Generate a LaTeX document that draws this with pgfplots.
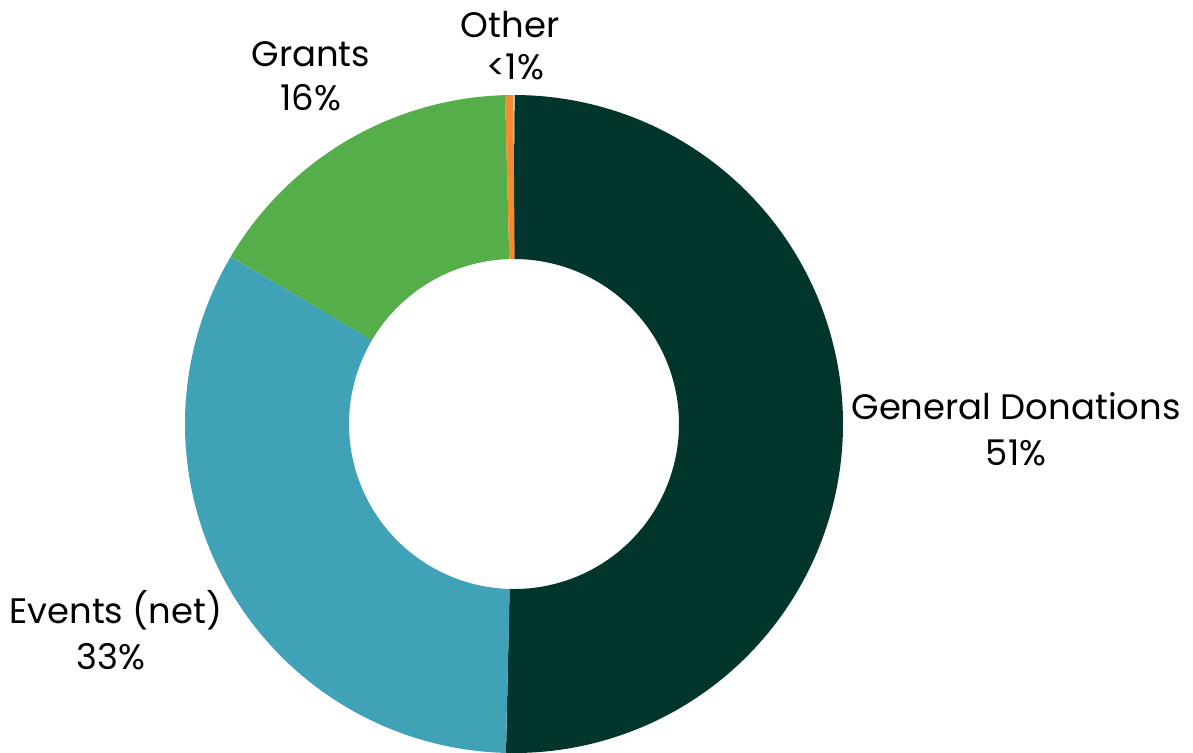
\documentclass[border=0pt]{standalone}
\usepackage{pgfplots}
\usepackage{pgfplotstable}
\pgfplotsset{compat=1.18}
\usepackage{fontspec}
\setmainfont{Poppins}
\definecolor{cDon}{HTML}{02352B}
\definecolor{cEvt}{HTML}{3FA2B7}
\definecolor{cGra}{HTML}{55AE49}
\definecolor{cOth}{HTML}{F38B32}
\pgfplotstableread{
label value
General 50.40
Events 33.10
Grants 16.06
Other 0.44
}\datatable
\pgfplotstablegetelem{0}{value}\of\datatable \let\va\pgfplotsretval
\pgfplotstablegetelem{1}{value}\of\datatable \let\vb\pgfplotsretval
\pgfplotstablegetelem{2}{value}\of\datatable \let\vc\pgfplotsretval
\pgfplotstablegetelem{3}{value}\of\datatable \let\vd\pgfplotsretval
\pgfmathsetmacro\aA{90}
\pgfmathsetmacro\aB{\aA-3.6*\va}
\pgfmathsetmacro\aC{\aB-3.6*\vb}
\pgfmathsetmacro\aD{\aC-3.6*\vc}
\pgfmathsetmacro\aE{\aD-3.6*\vd}
\def\cx{514}
\def\cy{424}
\def\rm{247}
\begin{document}
\begin{tikzpicture}
\begin{axis}[
  width=596.5pt, height=376pt, scale only axis,
  xmin=0, xmax=1193, ymin=0, ymax=752, y dir=reverse,
  hide axis, clip=true,
  every axis plot/.append style={line width=82pt, line cap=butt, line join=round},
]
\addplot[draw=cDon, domain=\aB:\aA, samples=300] ({\cx+\rm*cos(x)},{\cy-\rm*sin(x)});
\addplot[draw=cEvt, domain=\aC:\aB, samples=250] ({\cx+\rm*cos(x)},{\cy-\rm*sin(x)});
\addplot[draw=cGra, domain=\aD:\aC, samples=150] ({\cx+\rm*cos(x)},{\cy-\rm*sin(x)});
\addplot[draw=cOth, domain=\aE:\aD, samples=4] ({\cx+\rm*cos(x)},{\cy-\rm*sin(x)});
\begin{scope}[every node/.style={align=center, font=\fontsize{17.7}{22}\selectfont, inner sep=0pt}]
\node[anchor=base] at (axis cs:1016,419) {General Donations};
\node[anchor=base] at (axis cs:1016,465) {51\%};
\node[anchor=base] at (axis cs:116,623) {Events (net)};
\node[anchor=base] at (axis cs:111,669) {33\%};
\node[anchor=base] at (axis cs:311,66) {Grants};
\node[anchor=base] at (axis cs:311,110) {16\%};
\node[anchor=base] at (axis cs:510,37) {Other};
\node[anchor=base] at (axis cs:515,79) {<1\%};
\end{scope}
\end{axis}
\pgfresetboundingbox
\useasboundingbox (current axis.south west) rectangle (current axis.north east);
\end{tikzpicture}
\end{document}
